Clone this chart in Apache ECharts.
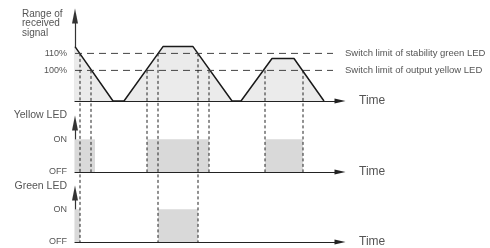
<!DOCTYPE html>
<html><head><meta charset="utf-8">
<script src="https://cdn.jsdelivr.net/npm/echarts@6/dist/echarts.min.js"></script>
<style>html,body{margin:0;padding:0;background:#fff}#c{width:490px;height:248px}</style>
</head><body><div id="c"></div>
<script>
// ---- data (time in arbitrary units along the axis) ----
const signalTime  = [0, 38, 49, 88, 118, 157, 166, 197, 219, 249];
const signalLevel = [114, 82, 82, 114, 114, 82, 82, 107, 107, 82]; // % (82 = axis floor)
const thresholdLevels = [110, 100];
const thresholdEnd = 258;
const thresholdLabels = ['Switch limit of stability green LED', 'Switch limit of output yellow LED'];
const levelTickValues = [110, 100];
const levelTickLabels = ['110%', '100%'];
const yellowSwitchTimes = [16, 72, 134, 190, 228];
const greenSwitchTimes = [5, 83, 123];
const yellowOn = [[0, 20], [72, 134], [190, 228]];
const greenOn = [[0, 5], [83, 123]];
const ledStateValues = [0, 1];
const ledStateLabels = ['OFF', 'ON'];
const panelNames = ['Range of\nreceived\nsignal', 'Yellow LED', 'Green LED'];
const timeName = 'Time';

// ---- layout ----
const LEFT = 75, WIDTH = 265, TMAX = 265;
const grids = [
  {top: 16, height: 85},
  {top: 123, height: 49},
  {top: 193, height: 50}
];
const base = grids.map(g => g.top + g.height);
const TXT = '#555';
const FONT = '"Liberation Sans", Arial, sans-serif';

const chart = echarts.init(document.getElementById('c'), null, {renderer: 'canvas'});

function xAxis(i) {
  return {
    type: 'value', gridIndex: i, min: 0, max: TMAX,
    axisLine: {show: true, symbol: ['none', 'triangle'], symbolSize: [5, 11],
      lineStyle: {color: '#222', width: 1.2}},
    axisTick: {show: false}, axisLabel: {show: false}, splitLine: {show: false},
    name: timeName, nameLocation: 'end', nameGap: 19,
    nameTextStyle: {color: TXT, fontSize: 12, fontFamily: FONT}
  };
}
function yAxis(i, min, max, vals, labs) {
  return {
    type: 'value', gridIndex: i, min: min, max: max,
    axisLine: {show: true, symbol: ['none', 'triangle'], symbolSize: [6, 15],
      lineStyle: {color: '#333', width: 1.2}},
    axisTick: {show: false}, splitLine: {show: false},
    axisLabel: {show: true, customValues: vals, margin: 8, color: TXT, fontSize: 9, fontFamily: FONT,
      formatter: v => labs[vals.indexOf(v)] || ''}
  };
}

const blockSeries = (gi, data) => ({
  type: 'custom', xAxisIndex: gi, yAxisIndex: gi, z: 1,
  data: data.map(d => [d[0], d[1], 1]),
  renderItem: (p, api) => {
    const a = api.coord([api.value(0), api.value(2)]);
    const b = api.coord([api.value(1), 0]);
    return {type: 'rect', shape: {x: a[0], y: a[1], width: b[0] - a[0], height: b[1] - a[1]},
      style: {fill: '#d9d9d9'}};
  }
});

const vData = [];
yellowSwitchTimes.forEach(t => vData.push([t, thresholdLevels[1], 1]));
greenSwitchTimes.forEach(t => vData.push([t, thresholdLevels[0], 2]));

const series = [
  {
    type: 'line', xAxisIndex: 0, yAxisIndex: 0, z: 2,
    data: signalTime.map((t, i) => [t, signalLevel[i]]),
    symbol: 'none', lineStyle: {color: '#1a1a1a', width: 1.5},
    areaStyle: {color: '#ebebeb', opacity: 1, origin: 'start'}
  },
  ...thresholdLevels.map((lv, i) => ({
    type: 'line', xAxisIndex: 0, yAxisIndex: 0, z: 4,
    data: [[0, lv], [thresholdEnd, lv]], symbol: 'none',
    lineStyle: {color: '#444', width: 1, type: [7, 5]},
    endLabel: {show: true, formatter: thresholdLabels[i], distance: 12,
      color: TXT, fontSize: 9.5, fontFamily: FONT}
  })),
  blockSeries(1, yellowOn),
  blockSeries(2, greenOn),
  {
    type: 'custom', xAxisIndex: 0, yAxisIndex: 0, z: 5, clip: false,
    data: vData,
    renderItem: (p, api) => {
      const a = api.coord([api.value(0), api.value(1)]);
      return {type: 'line', shape: {x1: a[0], y1: a[1], x2: a[0], y2: base[api.value(2)]},
        style: {stroke: '#222', lineWidth: 1, lineDash: [3, 2.5]}};
    }
  }
];

chart.setOption({
  animation: false,
  backgroundColor: '#fff',
  grid: grids.map(g => ({left: LEFT, width: WIDTH, top: g.top, height: g.height})),
  xAxis: [xAxis(0), xAxis(1), xAxis(2)],
  yAxis: [
    yAxis(0, 82, 132, levelTickValues, levelTickLabels),
    yAxis(1, 0, 1.5, ledStateValues, ledStateLabels),
    yAxis(2, 0, 1.5, ledStateValues, ledStateLabels)
  ],
  graphic: [
    {type: 'text', left: 22, top: 9, style: {text: panelNames[0], fill: TXT, fontSize: 10, lineHeight: 9.5, fontFamily: FONT}},
    {type: 'text', x: 67, y: 115, style: {text: panelNames[1], fill: TXT, fontSize: 10.5, fontFamily: FONT, align: 'right', verticalAlign: 'middle'}},
    {type: 'text', x: 67, y: 186, style: {text: panelNames[2], fill: TXT, fontSize: 10.5, fontFamily: FONT, align: 'right', verticalAlign: 'middle'}}
  ],
  series: series
});
</script></body></html>
